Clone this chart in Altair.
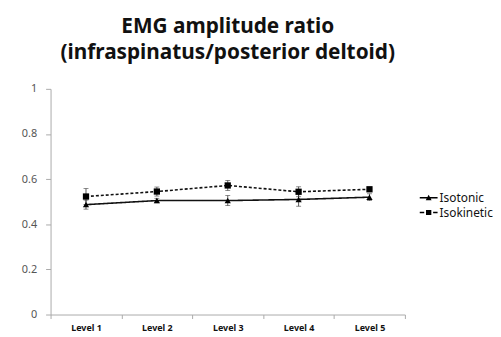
import altair as alt
import pandas as pd

levels = ["Level 1", "Level 2", "Level 3", "Level 4", "Level 5"]
isotonic = [0.487, 0.505, 0.505, 0.510, 0.520]
isotonic_err = [0.020, 0.010, 0.022, 0.030, 0.015]
isokinetic = [0.523, 0.545, 0.572, 0.544, 0.555]
isokinetic_err = [0.035, 0.020, 0.022, 0.022, 0.010]
series = ["Isotonic", "Isokinetic"]

rows = []
for name, vals, errs in [(series[0], isotonic, isotonic_err), (series[1], isokinetic, isokinetic_err)]:
    for lv, v, e in zip(levels, vals, errs):
        rows.append({"level": lv, "series": name, "value": v, "lo": v - e, "hi": v + e})
df = pd.DataFrame(rows)

font = "Noto Sans"

x = alt.X("level:N", sort=levels, title=None,
          scale=alt.Scale(type="band", paddingInner=0, paddingOuter=0),
          axis=alt.Axis(labelAngle=0, tickBand="extent", labelFontWeight="bold",
                        labelFontSize=9, labelColor="#111", domainColor="#aaa",
                        tickColor="#aaa", tickSize=4, labelPadding=5, labelFont=font))
y = alt.Y("value:Q", title=None,
          scale=alt.Scale(domain=[0, 1], nice=False),
          axis=alt.Axis(values=[0, 0.2, 0.4, 0.6, 0.8, 1], format="~g", grid=False,
                        domainColor="#aaa", tickColor="#aaa", tickSize=5, labelFontSize=11,
                        labelColor="#555", labelPadding=9, labelFont=font, labelFlush=False))

base = alt.Chart(df)

# legend symbols (unit-square paths): a short line with the series marker on it
legend_paths = [
    "M-1,-0.08L1,-0.08L1,0.08L-1,0.08Z"
    "M-0.33,0.28L0,-0.33L0.33,0.28Z",
    "M-1,-0.08L-0.5,-0.08L-0.5,0.08L-1,0.08Z"
    "M0.5,-0.08L1,-0.08L1,0.08L0.5,0.08Z"
    "M-0.3,-0.28L0.3,-0.28L0.3,0.28L-0.3,0.28Z",
]
dash_scale = alt.Scale(domain=series, range=[[1, 0], [3, 2]])
legend = alt.Legend(title=None, orient="none", legendX=373, legendY=101,
                    labelFont=font, labelFontSize=12, labelColor="#111",
                    symbolStrokeColor="#000", symbolFillColor="#000", symbolSize=324,
                    symbolOpacity=1, symbolStrokeWidth=0, rowPadding=0, labelOffset=2,
                    padding=0)

err = base.mark_errorbar(ticks=alt.MarkConfig(size=5), color="#333", thickness=0.8).encode(
    x=x, y=alt.Y("lo:Q", scale=alt.Scale(domain=[0, 1]), title=None), y2="hi:Q",
    detail="series:N")

lines = base.mark_line(color="#111", strokeWidth=1.6).encode(
    x=x, y=y, strokeDash=alt.StrokeDash("series:N", sort=series, scale=dash_scale, legend=legend))

tri = base.transform_filter(alt.datum.series == series[0]).mark_point(
    filled=True, color="#000", opacity=1, size=40, shape="triangle-up").encode(x=x, y=y)
sq = base.transform_filter(alt.datum.series == series[1]).mark_point(
    filled=True, color="#000", opacity=1, size=40, shape="square").encode(x=x, y=y)

legend_layer = base.mark_point(filled=True, color="#000", opacity=0).encode(
    x=x, y=y,
    shape=alt.Shape("series:N", sort=series, scale=alt.Scale(domain=series, range=legend_paths),
                    legend=legend),
    strokeDash=alt.StrokeDash("series:N", sort=series, scale=dash_scale, legend=legend),
)

chart = alt.layer(err, lines, tri, sq, legend_layer).properties(
    width=358, height=228,
    title=alt.Title(["EMG amplitude ratio", "(infraspinatus/posterior deltoid)"],
                    font=font, fontSize=21, fontWeight="bold", lineHeight=26,
                    anchor="middle", frame="group", offset=20, color="#111"),
).configure(
    background="white", padding={"left": 13, "top": 7, "right": 0, "bottom": 3}
).configure_view(stroke=None)

chart.save("out.html", embed_options={"renderer": "svg", "actions": False})
